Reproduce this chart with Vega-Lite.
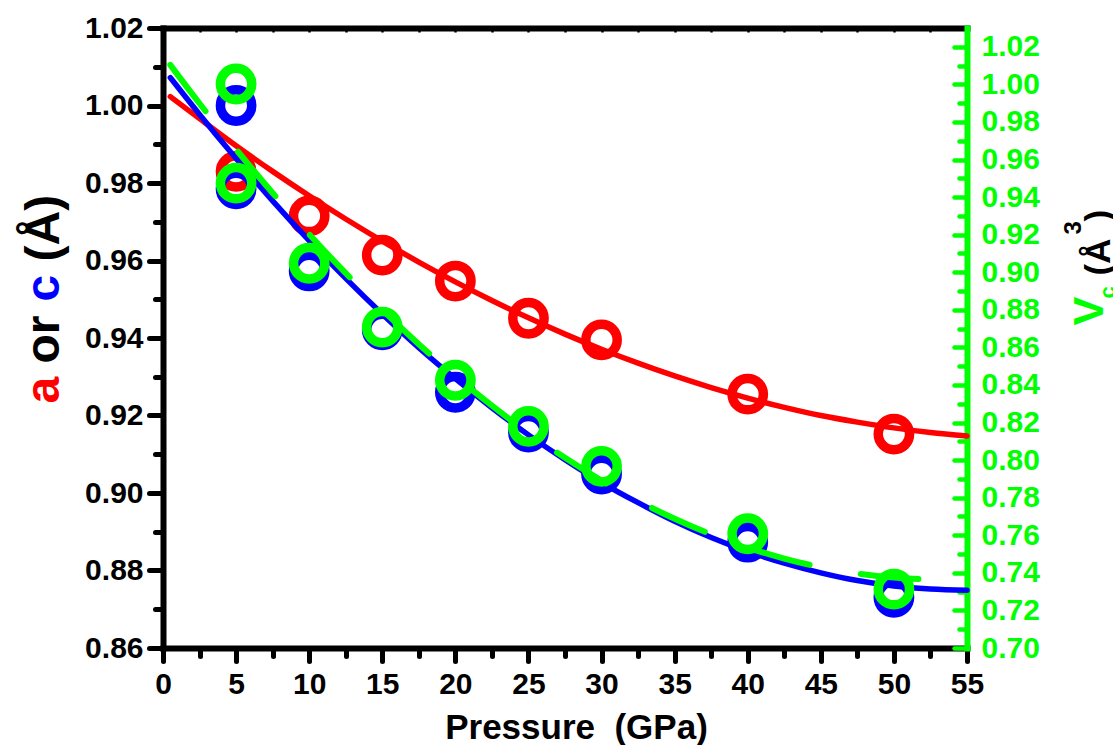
{
  "$schema": "https://vega.github.io/schema/vega-lite/v6.json",
  "autosize": {"type": "none"},
  "padding": {"left": 163, "top": 28, "right": 146, "bottom": 97},
  "width": 804,
  "height": 620,
  "background": "#ffffff",
  "config": {
    "view": {"stroke": null},
    "font": "Liberation Sans",
    "axis": {"grid": false, "labelFont": "Liberation Sans", "titleFont": "Liberation Sans", "labelFlush": false, "labelOverlap": false, "labelBound": false, "domainWidth": 6, "tickWidth": 5}
  },
  "datasets": {
    "pts": [
      {"P": 5, "s": "a", "v": 0.9830}, {"P": 10, "s": "a", "v": 0.9715}, {"P": 15, "s": "a", "v": 0.9614}, {"P": 20, "s": "a", "v": 0.9547},
      {"P": 25, "s": "a", "v": 0.9451}, {"P": 30, "s": "a", "v": 0.9395}, {"P": 40, "s": "a", "v": 0.9255}, {"P": 50, "s": "a", "v": 0.9152},
      {"P": 5, "s": "c", "v": 1.0000}, {"P": 5, "s": "c", "v": 0.9785}, {"P": 10, "s": "c", "v": 0.9573}, {"P": 15, "s": "c", "v": 0.9421},
      {"P": 20, "s": "c", "v": 0.9260}, {"P": 25, "s": "c", "v": 0.9157}, {"P": 30, "s": "c", "v": 0.9049}, {"P": 40, "s": "c", "v": 0.8873}, {"P": 50, "s": "c", "v": 0.8731},
      {"P": 5, "s": "V", "v": 1.0002}, {"P": 5, "s": "V", "v": 0.9474}, {"P": 10, "s": "V", "v": 0.9048}, {"P": 15, "s": "V", "v": 0.8708},
      {"P": 20, "s": "V", "v": 0.8425}, {"P": 25, "s": "V", "v": 0.8180}, {"P": 30, "s": "V", "v": 0.7967}, {"P": 40, "s": "V", "v": 0.7608}, {"P": 50, "s": "V", "v": 0.7313}
    ],
    "fit": [
      {"P": 0.5, "s": "a", "v": 1.0023}, {"P": 2.5, "s": "a", "v": 0.9966}, {"P": 5, "s": "a", "v": 0.9896}, {"P": 7.5, "s": "a", "v": 0.9830},
      {"P": 10, "s": "a", "v": 0.9767}, {"P": 12.5, "s": "a", "v": 0.9707}, {"P": 15, "s": "a", "v": 0.9650}, {"P": 17.5, "s": "a", "v": 0.9596},
      {"P": 20, "s": "a", "v": 0.9545}, {"P": 22.5, "s": "a", "v": 0.9497}, {"P": 25, "s": "a", "v": 0.9452}, {"P": 27.5, "s": "a", "v": 0.9410},
      {"P": 30, "s": "a", "v": 0.9371}, {"P": 32.5, "s": "a", "v": 0.9335}, {"P": 35, "s": "a", "v": 0.9302}, {"P": 37.5, "s": "a", "v": 0.9272},
      {"P": 40, "s": "a", "v": 0.9245}, {"P": 42.5, "s": "a", "v": 0.9221}, {"P": 45, "s": "a", "v": 0.9200}, {"P": 47.5, "s": "a", "v": 0.9183},
      {"P": 50, "s": "a", "v": 0.9168}, {"P": 52.5, "s": "a", "v": 0.9156}, {"P": 55, "s": "a", "v": 0.9147},
      {"P": 0.5, "s": "c", "v": 1.0072}, {"P": 2.5, "s": "c", "v": 0.9977}, {"P": 5, "s": "c", "v": 0.9863}, {"P": 7.5, "s": "c", "v": 0.9754},
      {"P": 10, "s": "c", "v": 0.9651}, {"P": 12.5, "s": "c", "v": 0.9554}, {"P": 15, "s": "c", "v": 0.9462}, {"P": 17.5, "s": "c", "v": 0.9375},
      {"P": 20, "s": "c", "v": 0.9295}, {"P": 22.5, "s": "c", "v": 0.9220}, {"P": 25, "s": "c", "v": 0.9150}, {"P": 27.5, "s": "c", "v": 0.9086},
      {"P": 30, "s": "c", "v": 0.9027}, {"P": 32.5, "s": "c", "v": 0.8975}, {"P": 35, "s": "c", "v": 0.8927}, {"P": 37.5, "s": "c", "v": 0.8885},
      {"P": 40, "s": "c", "v": 0.8849}, {"P": 42.5, "s": "c", "v": 0.8819}, {"P": 45, "s": "c", "v": 0.8794}, {"P": 47.5, "s": "c", "v": 0.8774},
      {"P": 50, "s": "c", "v": 0.8760}, {"P": 52.5, "s": "c", "v": 0.8752}, {"P": 55, "s": "c", "v": 0.8749},
      {"P": 0.5, "s": "V", "v": 1.0103}, {"P": 2.5, "s": "V", "v": 0.9898}, {"P": 5, "s": "V", "v": 0.9654}, {"P": 7.5, "s": "V", "v": 0.9422},
      {"P": 10, "s": "V", "v": 0.9202}, {"P": 12.5, "s": "V", "v": 0.8995}, {"P": 15, "s": "V", "v": 0.8800}, {"P": 17.5, "s": "V", "v": 0.8617},
      {"P": 20, "s": "V", "v": 0.8447}, {"P": 22.5, "s": "V", "v": 0.8290}, {"P": 25, "s": "V", "v": 0.8145}, {"P": 27.5, "s": "V", "v": 0.8012},
      {"P": 30, "s": "V", "v": 0.7891}, {"P": 32.5, "s": "V", "v": 0.7783}, {"P": 35, "s": "V", "v": 0.7688}, {"P": 37.5, "s": "V", "v": 0.7605},
      {"P": 40, "s": "V", "v": 0.7534}, {"P": 42.5, "s": "V", "v": 0.7476}, {"P": 45, "s": "V", "v": 0.7430}, {"P": 47.5, "s": "V", "v": 0.7396},
      {"P": 50, "s": "V", "v": 0.7375}, {"P": 52.5, "s": "V", "v": 0.7366}, {"P": 55, "s": "V", "v": 0.7370}
    ]
  },
  "resolve": {"scale": {"x": "independent", "y": "independent"}},
  "layer": [
    {
      "data": {"name": "pts"},
      "transform": [{"filter": "datum.s == 'a'"}],
      "mark": {"type": "point", "shape": "circle", "filled": false, "size": 980, "strokeWidth": 9.5, "color": "#FF0000", "opacity": 1},
      "encoding": {
        "x": {"field": "P", "type": "quantitative", "scale": {"domain": [0, 55], "nice": false, "zero": false},
          "axis": {"orient": "bottom", "values": [0, 5, 10, 15, 20, 25, 30, 35, 40, 45, 50, 55], "format": "d",
            "domain": true, "domainColor": "#000000", "domainWidth": 6, "domainCap": "square",
            "ticks": true, "tickColor": "#000000", "tickWidth": 5, "tickSize": 13, "tickCap": "round",
            "labels": true, "labelFontSize": 30, "labelFontWeight": "bold", "labelColor": "#000000", "labelPadding": 8,
            "title": "Pressure \u00a0(GPa)", "titleFontSize": 35, "titleFontWeight": "bold", "titleColor": "#000000",
            "titleX": 413, "titleY": 90, "titleAlign": "center", "titleBaseline": "alphabetic", "titleAngle": 0}},
        "y": {"field": "v", "type": "quantitative", "scale": {"domain": [0.86, 1.02], "nice": false, "zero": false},
          "axis": {"orient": "left", "values": [0.86, 0.88, 0.9, 0.92, 0.94, 0.96, 0.98, 1, 1.02], "format": ".2f",
            "domain": true, "domainColor": "#000000", "domainWidth": 6, "domainCap": "square",
            "ticks": true, "tickColor": "#000000", "tickWidth": 5, "tickSize": 14, "tickCap": "round",
            "labels": true, "labelFontSize": 30, "labelFontWeight": "bold", "labelColor": "#000000", "labelPadding": 6,
            "title": "or", "titleFontSize": 48, "titleFontWeight": "bold", "titleColor": "#000000",
            "titleAngle": 270, "titleX": -105, "titleY": 335, "titleAlign": "left", "titleBaseline": "alphabetic"}}
      }
    },
    {
      "data": {"name": "pts"},
      "transform": [{"filter": "datum.s == 'c'"}],
      "mark": {"type": "point", "shape": "circle", "filled": false, "size": 980, "strokeWidth": 9.5, "color": "#0000FF", "opacity": 1},
      "encoding": {
        "x": {"field": "P", "type": "quantitative", "scale": {"domain": [0, 55], "nice": false, "zero": false},
          "axis": {"orient": "bottom", "values": [2.5, 7.5, 12.5, 17.5, 22.5, 27.5, 32.5, 37.5, 42.5, 47.5, 52.5],
            "domain": false, "labels": false, "ticks": true, "tickColor": "#000000", "tickWidth": 5, "tickSize": 8, "tickCap": "round", "title": null}},
        "y": {"field": "v", "type": "quantitative", "scale": {"domain": [0.86, 1.02], "nice": false, "zero": false},
          "axis": {"orient": "left", "values": [0.87, 0.89, 0.91, 0.93, 0.95, 0.97, 0.99, 1.01],
            "domain": false, "labels": false, "ticks": true, "tickColor": "#000000", "tickWidth": 5, "tickSize": 8, "tickCap": "round",
            "title": "c", "titleFontSize": 48, "titleFontWeight": "bold", "titleColor": "#0000FF",
            "titleAngle": 270, "titleX": -105, "titleY": 273, "titleAlign": "left", "titleBaseline": "alphabetic"}}
      }
    },
    {
      "data": {"name": "fit"},
      "transform": [{"filter": "datum.s == 'a'"}],
      "mark": {"type": "line", "color": "#FF0000", "strokeWidth": 5.5, "strokeCap": "round", "interpolate": "monotone"},
      "encoding": {
        "x": {"field": "P", "type": "quantitative", "scale": {"domain": [0, 55], "nice": false, "zero": false},
          "axis": {"orient": "top", "values": [0, 2.5, 5, 7.5, 10, 12.5, 15, 17.5, 20, 22.5, 25, 27.5, 30, 32.5, 35, 37.5, 40, 42.5, 45, 47.5, 50, 52.5, 55],
            "domain": true, "domainColor": "#000000", "domainWidth": 6, "domainCap": "square",
            "labels": false, "ticks": true, "tickColor": "#000000", "tickWidth": 2.5, "tickSize": -4, "title": null}},
        "y": {"field": "v", "type": "quantitative", "scale": {"domain": [0.86, 1.02], "nice": false, "zero": false},
          "axis": {"orient": "left", "domain": false, "labels": false, "ticks": false,
            "title": "a", "titleFontSize": 48, "titleFontWeight": "bold", "titleColor": "#FF0000",
            "titleAngle": 270, "titleX": -105, "titleY": 375, "titleAlign": "left", "titleBaseline": "alphabetic"}}
      }
    },
    {
      "data": {"name": "fit"},
      "transform": [{"filter": "datum.s == 'c'"}],
      "mark": {"type": "line", "color": "#0000FF", "strokeWidth": 5.5, "strokeCap": "round", "interpolate": "monotone"},
      "encoding": {
        "x": {"field": "P", "type": "quantitative", "scale": {"domain": [0, 55], "nice": false, "zero": false}, "axis": null},
        "y": {"field": "v", "type": "quantitative", "scale": {"domain": [0.86, 1.02], "nice": false, "zero": false},
          "axis": {"orient": "left", "domain": false, "labels": false, "ticks": false,
            "title": "(Å)", "titleFontSize": 48, "titleFontWeight": "bold", "titleColor": "#000000",
            "titleAngle": 270, "titleX": -105, "titleY": 233, "titleAlign": "left", "titleBaseline": "alphabetic"}}
      }
    },
    {
      "data": {"name": "pts"},
      "transform": [{"filter": "datum.s == 'V'"}],
      "mark": {"type": "point", "shape": "circle", "filled": false, "size": 980, "strokeWidth": 9.5, "color": "#00FF00", "opacity": 1},
      "encoding": {
        "x": {"field": "P", "type": "quantitative", "scale": {"domain": [0, 55], "nice": false, "zero": false}, "axis": null},
        "y": {"field": "v", "type": "quantitative", "scale": {"domain": [0.7, 1.03], "nice": false, "zero": false},
          "axis": {"orient": "right", "values": [0.7, 0.72, 0.74, 0.76, 0.78, 0.8, 0.82, 0.84, 0.86, 0.88, 0.9, 0.92, 0.94, 0.96, 0.98, 1, 1.02], "format": ".2f",
            "domain": true, "domainColor": "#00FF00", "domainWidth": 6, "domainCap": "square",
            "ticks": true, "tickColor": "#00FF00", "tickWidth": 4.5, "tickSize": -13, "tickCap": "round",
            "labels": true, "labelFontSize": 30, "labelFontWeight": "bold", "labelColor": "#00FF00", "labelPadding": 27,
            "title": "V", "titleFontSize": 43, "titleFontWeight": "bold", "titleColor": "#00FF00",
            "titleAngle": 270, "titleX": 135, "titleY": 297, "titleAlign": "left", "titleBaseline": "alphabetic"}}
      }
    },
    {
      "data": {"name": "fit"},
      "transform": [{"filter": "datum.s == 'V'"}],
      "mark": {"type": "line", "color": "#00FF00", "strokeWidth": 6, "strokeCap": "round", "strokeDash": [58, 52], "interpolate": "monotone"},
      "encoding": {
        "x": {"field": "P", "type": "quantitative", "scale": {"domain": [0, 55], "nice": false, "zero": false}, "axis": null},
        "y": {"field": "v", "type": "quantitative", "scale": {"domain": [0.7, 1.03], "nice": false, "zero": false},
          "axis": {"orient": "right", "values": [0.71, 0.73, 0.75, 0.77, 0.79, 0.81, 0.83, 0.85, 0.87, 0.89, 0.91, 0.93, 0.95, 0.97, 0.99, 1.01],
            "domain": false, "labels": false, "ticks": true, "tickColor": "#00FF00", "tickWidth": 4.5, "tickSize": -8, "tickCap": "round",
            "title": "c", "titleFontSize": 22, "titleFontWeight": "bold", "titleColor": "#00FF00",
            "titleAngle": 270, "titleX": 147, "titleY": 270, "titleAlign": "left", "titleBaseline": "alphabetic"}}
      }
    },
    {
      "data": {"name": "pts"},
      "transform": [{"filter": "datum.s == 'V'"}],
      "mark": {"type": "point", "shape": "circle", "filled": false, "size": 10, "opacity": 0},
      "encoding": {
        "x": {"field": "P", "type": "quantitative", "scale": {"domain": [0, 55], "nice": false, "zero": false}, "axis": null},
        "y": {"field": "v", "type": "quantitative", "scale": {"domain": [0.7, 1.03], "nice": false, "zero": false},
          "axis": {"orient": "right", "domain": false, "labels": false, "ticks": false,
            "title": "(Å", "titleFontSize": 35, "titleFontWeight": "bold", "titleColor": "#000000",
            "titleAngle": 270, "titleX": 142, "titleY": 247, "titleAlign": "left", "titleBaseline": "alphabetic"}}
      }
    },
    {
      "data": {"name": "pts"},
      "transform": [{"filter": "datum.s == 'V'"}],
      "mark": {"type": "point", "shape": "circle", "filled": false, "size": 10, "opacity": 0},
      "encoding": {
        "x": {"field": "P", "type": "quantitative", "scale": {"domain": [0, 55], "nice": false, "zero": false}, "axis": null},
        "y": {"field": "v", "type": "quantitative", "scale": {"domain": [0.7, 1.03], "nice": false, "zero": false},
          "axis": {"orient": "right", "domain": false, "labels": false, "ticks": false,
            "title": "3", "titleFontSize": 24, "titleFontWeight": "bold", "titleColor": "#000000",
            "titleAngle": 270, "titleX": 113, "titleY": 206, "titleAlign": "left", "titleBaseline": "alphabetic"}}
      }
    },
    {
      "data": {"name": "pts"},
      "transform": [{"filter": "datum.s == 'V'"}],
      "mark": {"type": "point", "shape": "circle", "filled": false, "size": 10, "opacity": 0},
      "encoding": {
        "x": {"field": "P", "type": "quantitative", "scale": {"domain": [0, 55], "nice": false, "zero": false}, "axis": null},
        "y": {"field": "v", "type": "quantitative", "scale": {"domain": [0.7, 1.03], "nice": false, "zero": false},
          "axis": {"orient": "right", "domain": false, "labels": false, "ticks": false,
            "title": ")", "titleFontSize": 35, "titleFontWeight": "bold", "titleColor": "#000000",
            "titleAngle": 270, "titleX": 142, "titleY": 193, "titleAlign": "left", "titleBaseline": "alphabetic"}}
      }
    },
    {
      "mark": {"type": "text", "text": "R² = 0.96654", "font": "Liberation Sans", "fontSize": 31, "fontWeight": "bold", "color": "#000000", "align": "left", "baseline": "alphabetic"},
      "encoding": {
        "x": {"datum": 38.2, "type": "quantitative", "scale": {"domain": [0, 55], "nice": false, "zero": false}, "axis": null},
        "y": {"datum": 1.0074, "type": "quantitative", "scale": {"domain": [0.86, 1.02], "nice": false, "zero": false}, "axis": null}
      }
    }
  ]
}
